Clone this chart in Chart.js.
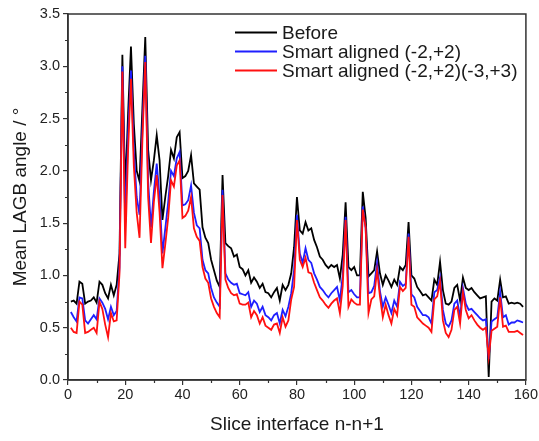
<!DOCTYPE html>
<html>
<head>
<meta charset="utf-8">
<script src="https://cdn.jsdelivr.net/npm/chart.js@4/dist/chart.umd.min.js"></script>
<style>
  html, body { margin: 0; padding: 0; background: #fff; }
  #wrap { width: 539px; height: 441px; }
</style>
</head>
<body>
<div id="wrap"><canvas id="c" width="539" height="441"></canvas></div>
<script>
// ---- data ----
const seriesLabels = ["Before", "Smart aligned (-2,+2)", "Smart aligned (-2,+2)(-3,+3)"];
const xTicks = [0, 20, 40, 60, 80, 100, 120, 140, 160];
const yTicks = [0.0, 0.5, 1.0, 1.5, 2.0, 2.5, 3.0, 3.5];

const before = [
  0.75,0.76,0.73,0.94,0.92,0.73,0.75,0.76,0.79,0.74,
  0.94,0.91,0.83,0.78,0.91,0.81,0.91,1.21,3.11,1.80,
  2.55,3.19,2.45,2.00,1.90,2.60,3.28,2.20,1.91,2.10,
  2.34,2.10,1.53,1.75,1.95,2.20,2.12,2.32,2.37,1.93,
  1.95,2.00,2.15,1.88,1.85,1.82,1.46,1.36,1.31,1.15,
  1.05,0.95,0.89,1.96,1.31,1.28,1.26,1.18,1.20,1.08,
  1.06,1.00,1.05,0.93,0.98,0.94,0.88,0.92,0.84,0.83,
  0.79,0.84,0.88,0.76,0.91,0.86,0.91,1.02,1.27,1.75,
  1.43,1.40,1.51,1.43,1.45,1.34,1.27,1.18,1.15,1.10,
  1.07,1.10,1.08,1.10,0.97,1.20,1.70,1.08,1.05,1.08,
  1.00,1.00,1.80,1.55,0.99,1.02,1.05,1.23,1.02,0.91,
  1.00,0.95,0.89,0.96,0.91,1.08,1.05,1.10,1.51,1.00,
  0.97,0.89,0.85,0.81,0.82,0.79,0.76,0.96,0.91,1.13,
  0.86,0.73,0.72,0.75,0.88,0.91,0.76,0.98,0.88,0.86,
  0.88,0.84,0.81,0.78,0.79,0.80,0.03,0.75,0.78,0.76,
  0.96,0.79,0.80,0.73,0.74,0.73,0.74,0.73,0.70
];
const aligned2 = [
  0.65,0.60,0.56,0.79,0.78,0.57,0.54,0.58,0.62,0.58,
  0.78,0.74,0.68,0.58,0.70,0.62,0.66,1.08,3.00,1.50,
  2.35,2.96,2.20,1.75,1.58,2.40,3.10,1.90,1.46,1.80,
  2.07,1.75,1.21,1.45,1.70,2.00,1.95,2.12,2.18,1.67,
  1.68,1.72,1.86,1.60,1.48,1.45,1.15,1.05,1.02,0.88,
  0.79,0.74,0.70,1.82,1.02,0.96,0.93,0.91,0.92,0.83,
  0.82,0.81,0.84,0.70,0.76,0.73,0.65,0.70,0.62,0.60,
  0.57,0.62,0.64,0.54,0.67,0.61,0.70,0.83,1.05,1.58,
  1.21,1.12,1.26,1.15,1.12,1.02,0.96,0.89,0.86,0.82,
  0.79,0.83,0.86,0.89,0.76,1.00,1.56,0.84,0.86,0.82,
  0.79,0.79,1.66,1.45,0.83,0.84,0.90,1.12,0.85,0.70,
  0.79,0.72,0.64,0.76,0.70,0.94,0.90,0.92,1.40,0.82,
  0.79,0.70,0.66,0.62,0.62,0.60,0.54,0.84,0.86,0.98,
  0.67,0.54,0.51,0.57,0.73,0.76,0.60,0.88,0.73,0.67,
  0.68,0.65,0.62,0.59,0.57,0.58,0.20,0.56,0.58,0.60,
  0.84,0.60,0.62,0.53,0.55,0.55,0.57,0.56,0.55
];
const aligned23 = [
  0.50,0.46,0.45,0.75,0.72,0.45,0.46,0.48,0.50,0.45,
  0.75,0.68,0.53,0.41,0.64,0.56,0.57,1.02,2.95,1.26,
  2.20,2.88,2.05,1.60,1.36,2.30,3.04,1.75,1.31,1.70,
  1.96,1.60,1.07,1.30,1.55,1.91,1.85,2.05,2.10,1.55,
  1.57,1.62,1.75,1.45,1.37,1.33,1.08,0.97,0.93,0.78,
  0.70,0.64,0.60,1.77,0.96,0.88,0.83,0.81,0.82,0.73,
  0.72,0.72,0.74,0.60,0.66,0.62,0.54,0.60,0.52,0.50,
  0.48,0.53,0.54,0.45,0.60,0.51,0.57,0.77,0.89,1.53,
  1.15,1.08,1.17,1.03,1.02,0.93,0.86,0.79,0.76,0.72,
  0.69,0.73,0.76,0.78,0.64,0.90,1.53,0.70,0.77,0.74,
  0.72,0.72,1.63,1.46,0.64,0.77,0.80,1.05,0.80,0.60,
  0.72,0.62,0.54,0.68,0.62,0.89,0.85,0.88,1.37,0.72,
  0.70,0.60,0.57,0.54,0.52,0.50,0.46,0.77,0.80,0.94,
  0.57,0.45,0.41,0.48,0.67,0.70,0.54,0.84,0.67,0.59,
  0.62,0.57,0.53,0.50,0.48,0.50,0.22,0.47,0.49,0.51,
  0.79,0.51,0.52,0.46,0.46,0.46,0.47,0.45,0.43
];
// slice interface index for each value (1..159)
const slices = before.map((_, i) => i + 1);

const colors = ["#000000", "#1f1fff", "#ff1010"];
const FONT = "'Liberation Sans', Arial, sans-serif";

function pts(arr) { return arr.map((v, i) => ({ x: slices[i], y: v })); }

const framePlugin = {
  id: 'frame',
  afterDraw(chart) {
    const { ctx, chartArea: a, scales } = chart;
    ctx.save();
    ctx.strokeStyle = '#333';
    ctx.lineWidth = 1.5;
    ctx.strokeRect(a.left, a.top, a.right - a.left, a.bottom - a.top);
    // minor ticks
    ctx.lineWidth = 1.2;
    ctx.beginPath();
    for (let i = 0; i < yTicks.length - 1; i++) {
      const v = (yTicks[i] + yTicks[i + 1]) / 2;
      const py = Math.round(scales.y.getPixelForValue(v)) + 0.5;
      ctx.moveTo(a.left - 3, py); ctx.lineTo(a.left, py);
    }
    for (let i = 0; i < xTicks.length - 1; i++) {
      const v = (xTicks[i] + xTicks[i + 1]) / 2;
      const px = Math.round(scales.x.getPixelForValue(v)) + 0.5;
      ctx.moveTo(px, a.bottom); ctx.lineTo(px, a.bottom + 3);
    }
    ctx.stroke();
    // legend
    ctx.font = "19px " + FONT;
    ctx.textBaseline = 'middle';
    ctx.textAlign = 'left';
    chart.data.datasets.forEach((ds, i) => {
      const y = a.top + 18.5 + i * 19;
      ctx.strokeStyle = ds.borderColor;
      ctx.lineWidth = 1.8;
      ctx.beginPath();
      ctx.moveTo(235, y); ctx.lineTo(277, y);
      ctx.stroke();
      ctx.fillStyle = '#1a1a1a';
      ctx.fillText(ds.label, 282, y + 1);
    });
    ctx.restore();
  }
};

new Chart(document.getElementById('c'), {
  type: 'line',
  data: {
    datasets: [
      { label: seriesLabels[0], data: pts(before), borderColor: colors[0], order: 3 },
      { label: seriesLabels[1], data: pts(aligned2), borderColor: colors[1], order: 2 },
      { label: seriesLabels[2], data: pts(aligned23), borderColor: colors[2], order: 1 }
    ].map(d => Object.assign(d, { borderWidth: 1.8, pointRadius: 0, tension: 0, fill: false }))
  },
  options: {
    responsive: false,
    animation: false,
    devicePixelRatio: 1,
    layout: { padding: { top: 14, right: 13, left: 0, bottom: 0 } },
    plugins: { legend: { display: false }, tooltip: { enabled: false } },
    scales: {
      x: {
        type: 'linear', min: 0, max: 160,
        afterFit(s) { s.height = 61; },
        afterBuildTicks(s) { s.ticks = xTicks.map(v => ({ value: v })); },
        ticks: { font: { size: 14.5, family: FONT }, color: '#222', padding: 1, maxRotation: 0 },
        grid: { drawOnChartArea: false, drawTicks: true, tickLength: 5, color: '#333', lineWidth: 1.2 },
        border: { display: true, color: '#333', width: 1.5 },
        title: { display: true, text: 'Slice interface n-n+1', font: { size: 19, family: FONT }, color: '#1a1a1a', padding: { top: 4, bottom: 5 } }
      },
      y: {
        type: 'linear', min: 0, max: 3.5,
        afterFit(s) { s.width = 68; },
        afterBuildTicks(s) { s.ticks = yTicks.map(v => ({ value: v })); },
        ticks: { font: { size: 14.5, family: FONT }, color: '#222', padding: 3, callback: v => v.toFixed(1) },
        grid: { drawOnChartArea: false, drawTicks: true, tickLength: 5, color: '#333', lineWidth: 1.2 },
        border: { display: true, color: '#333', width: 1.5 },
        title: { display: true, text: 'Mean LAGB angle / °', font: { size: 19, family: FONT }, color: '#1a1a1a', padding: { top: 9, bottom: 4 } }
      }
    }
  },
  plugins: [framePlugin]
});
</script>
</body>
</html>
